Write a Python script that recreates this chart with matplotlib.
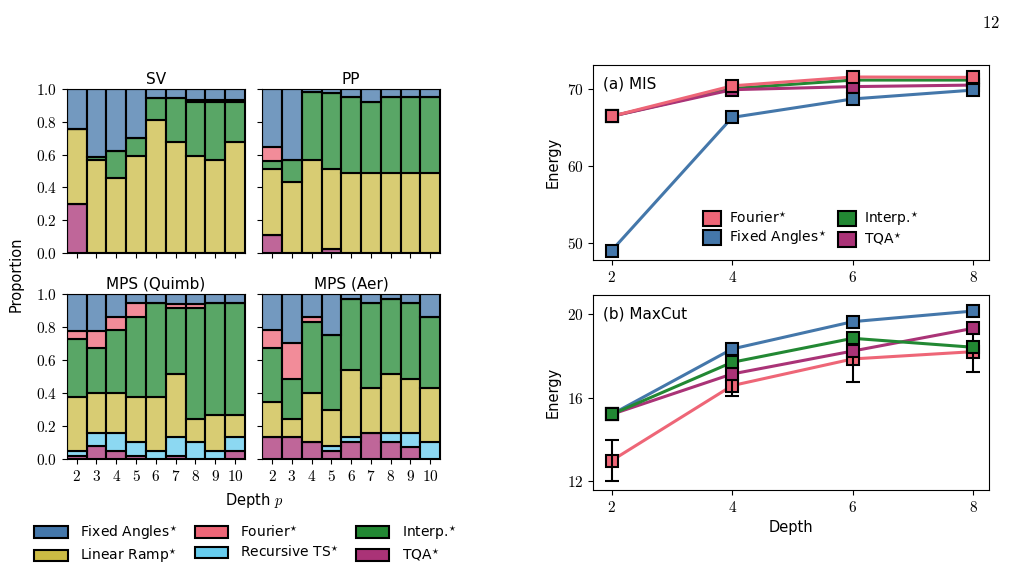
import numpy as np
import matplotlib
matplotlib.use("Agg")
import matplotlib.pyplot as plt
from matplotlib.colors import to_rgba
from matplotlib.patches import Patch
from matplotlib.ticker import FuncFormatter

plt.rcParams['font.family'] = ['DejaVu Sans']
plt.rcParams['mathtext.fontset'] = 'cm'
plt.rcParams['font.size'] = 10

# methods, stacked bottom -> top
methods = ["TQA*", "Recursive TS*", "Linear Ramp*", "Interp.*", "Fourier*", "Fixed Angles*"]
colors = {"Fixed Angles*": "#4477AA", "Fourier*": "#EE6677", "Interp.*": "#228833",
          "Linear Ramp*": "#CCBB44", "Recursive TS*": "#66CCEE", "TQA*": "#AA3377"}
depths = [2, 3, 4, 5, 6, 7, 8, 9, 10]

# proportions per simulator, order as in `methods` (Fixed Angles = rest)
sv_tqa = [0.30, 0, 0, 0, 0, 0, 0, 0, 0]
sv_rts = [0, 0, 0, 0, 0, 0, 0, 0, 0]
sv_lr = [0.455, 0.57, 0.457, 0.589, 0.813, 0.677, 0.589, 0.569, 0.677]
sv_int = [0, 0.016, 0.163, 0.111, 0.132, 0.268, 0.331, 0.351, 0.243]
sv_fou = [0, 0, 0, 0, 0, 0, 0.015, 0.015, 0.015]

pp_tqa = [0.108, 0, 0, 0.024, 0, 0, 0, 0, 0]
pp_rts = [0, 0, 0, 0, 0, 0, 0, 0, 0]
pp_lr = [0.404, 0.431, 0.569, 0.488, 0.488, 0.488, 0.488, 0.488, 0.488]
pp_int = [0.051, 0.138, 0.411, 0.464, 0.461, 0.433, 0.461, 0.461, 0.461]
pp_fou = [0.083, 0, 0, 0, 0, 0, 0, 0, 0]

mq_tqa = [0.018, 0.079, 0.049, 0.018, 0, 0.018, 0, 0, 0.049]
mq_rts = [0.031, 0.081, 0.111, 0.087, 0.049, 0.118, 0.105, 0.049, 0.083]
mq_lr = [0.330, 0.243, 0.243, 0.274, 0.330, 0.378, 0.136, 0.218, 0.135]
mq_int = [0.348, 0.269, 0.380, 0.481, 0.566, 0.405, 0.678, 0.678, 0.678]
mq_fou = [0.050, 0.105, 0.081, 0.085, 0, 0.022, 0.022, 0, 0]

ma_tqa = [0.132, 0.132, 0.105, 0.049, 0.105, 0.160, 0.105, 0.075, 0]
ma_rts = [0, 0, 0, 0.030, 0.031, 0, 0.055, 0.085, 0.105]
ma_lr = [0.216, 0.109, 0.298, 0.219, 0.404, 0.269, 0.354, 0.324, 0.324]
ma_int = [0.324, 0.243, 0.431, 0.455, 0.430, 0.516, 0.456, 0.461, 0.431]
ma_fou = [0.111, 0.218, 0.026, 0, 0, 0, 0, 0, 0]

panels = [("SV", [sv_tqa, sv_rts, sv_lr, sv_int, sv_fou]),
          ("PP", [pp_tqa, pp_rts, pp_lr, pp_int, pp_fou]),
          ("MPS (Quimb)", [mq_tqa, mq_rts, mq_lr, mq_int, mq_fou]),
          ("MPS (Aer)", [ma_tqa, ma_rts, ma_lr, ma_int, ma_fou])]

# energies vs depth
e_depths = [2, 4, 6, 8]
mis_fourier = [66.5, 70.45, 71.6, 71.55]
mis_fixed = [49.05, 66.35, 68.75, 69.9]
mis_interp = [66.5, 70.1, 71.2, 71.2]
mis_tqa = [66.5, 69.95, 70.35, 70.55]

mc_fourier = [12.98, 16.58, 17.86, 18.21]
mc_fourier_err = [1.0, 0.48, 1.12, 1.0]
mc_fixed = [15.2, 18.34, 19.65, 20.16]
mc_interp = [15.2, 17.7, 18.85, 18.42]
mc_tqa = [15.2, 17.14, 18.24, 19.33]

fig = plt.figure(figsize=(10.15, 5.71), dpi=100)

math_fmt = FuncFormatter(lambda v, p: r"$%g$" % v)
math_fmt1 = FuncFormatter(lambda v, p: r"$%.1f$" % v)

pos = [[0.0657, 0.557, 0.1757, 0.287], [0.2584, 0.557, 0.1751, 0.287],
       [0.0657, 0.196, 0.1757, 0.2886], [0.2584, 0.196, 0.1751, 0.2886]]
for k, (title, parts) in enumerate(panels):
    ax = fig.add_axes(pos[k])
    bottom = np.zeros(len(depths))
    rest = 1 - np.sum(parts, axis=0)
    for name, vals in zip(methods, parts + [rest]):
        vals = np.array(vals, dtype=float)
        ax.bar(depths, vals, width=1.0, bottom=bottom, color=to_rgba(colors[name], 0.75),
               edgecolor="black", linewidth=1.5)
        bottom += vals
    ax.set_xlim(1.5, 10.5)
    ax.set_ylim(0, 1)
    ax.set_title(title, fontsize=11, pad=4)
    ax.set_xticks(depths)
    ax.set_yticks([0, 0.2, 0.4, 0.6, 0.8, 1.0])
    ax.yaxis.set_major_formatter(math_fmt1)
    ax.xaxis.set_major_formatter(math_fmt)
    ax.tick_params(labelsize=11)
    if k in (0, 1):
        ax.set_xticklabels([])
    if k in (1, 3):
        ax.set_yticklabels([])
fig.text(0.016, 0.52, "Proportion", rotation=90, va="center", ha="center", fontsize=10.5)
fig.text(0.25, 0.123, r"Depth $p$", ha="center", va="center", fontsize=10.5)

handles = [Patch(facecolor=colors[n], edgecolor="black", linewidth=1.5, label=n.replace("*", "$^{\\star}$"))
           for n in ["Fixed Angles*", "Linear Ramp*", "Fourier*", "Recursive TS*", "Interp.*", "TQA*"]]
fig.legend(handles=handles, ncol=3, loc="center", bbox_to_anchor=(0.242, 0.047), frameon=False,
           fontsize=10, handlelength=2.4, handleheight=0.9, columnspacing=1.2, labelspacing=0.35,
           handletextpad=0.9)

lw = 2.2
ms = 9


def series(ax, x, y, name, err=None):
    ax.plot(x, y, "-s", color=colors[name], lw=lw, ms=ms, mec="black", mew=1.5,
            label=name.replace("*", "$^{\\star}$"))
    if err is not None:
        ax.errorbar(x, y, yerr=err, fmt="none", ecolor="black", elinewidth=1.5, capsize=5, capthick=1.5)


ax1 = fig.add_axes([0.5842, 0.5447, 0.3902, 0.3415])
series(ax1, e_depths, mis_interp, "Interp.*")
series(ax1, e_depths, mis_tqa, "TQA*")
series(ax1, e_depths, mis_fixed, "Fixed Angles*")
series(ax1, e_depths, mis_fourier, "Fourier*")
ax1.set_xlim(1.69, 8.26)
ax1.set_ylim(47.83, 73.16)
ax1.set_xticks(e_depths)
ax1.set_yticks([50, 60, 70])
ax1.xaxis.set_major_formatter(math_fmt)
ax1.yaxis.set_major_formatter(math_fmt)
ax1.tick_params(labelsize=11)
ax1.set_ylabel("Energy", fontsize=10.5)
ax1.text(0.025, 0.94, "(a) MIS", transform=ax1.transAxes, fontsize=11, va="top")
h, l = ax1.get_legend_handles_labels()
order = [3, 2, 0, 1]
lh = [Patch(facecolor=h[i].get_color(), edgecolor="black", linewidth=1.5) for i in order]
ax1.legend(lh, [l[i] for i in order], ncol=2, loc="lower center", bbox_to_anchor=(0.55, 0.0),
           frameon=False, fontsize=10, handlelength=1.3, handleheight=1.3, columnspacing=0.8,
           labelspacing=0.2, handletextpad=0.6)

ax2 = fig.add_axes([0.5842, 0.1419, 0.3902, 0.3415])
series(ax2, e_depths, mc_fourier, "Fourier*", mc_fourier_err)
series(ax2, e_depths, mc_fixed, "Fixed Angles*")
series(ax2, e_depths, mc_tqa, "TQA*")
series(ax2, e_depths, mc_interp, "Interp.*")
ax2.set_xlim(1.69, 8.26)
ax2.set_ylim(11.57, 20.93)
ax2.set_xticks(e_depths)
ax2.set_yticks([12, 16, 20])
ax2.xaxis.set_major_formatter(math_fmt)
ax2.yaxis.set_major_formatter(math_fmt)
ax2.tick_params(labelsize=11)
ax2.set_ylabel("Energy", fontsize=10.5)
ax2.set_xlabel("Depth", fontsize=10.5)
ax2.text(0.025, 0.94, "(b) MaxCut", transform=ax2.transAxes, fontsize=11, va="top")

fig.text(0.985, 0.975, r"$12$", ha="right", va="top", fontsize=12)

fig.savefig("out.png", dpi=100)
